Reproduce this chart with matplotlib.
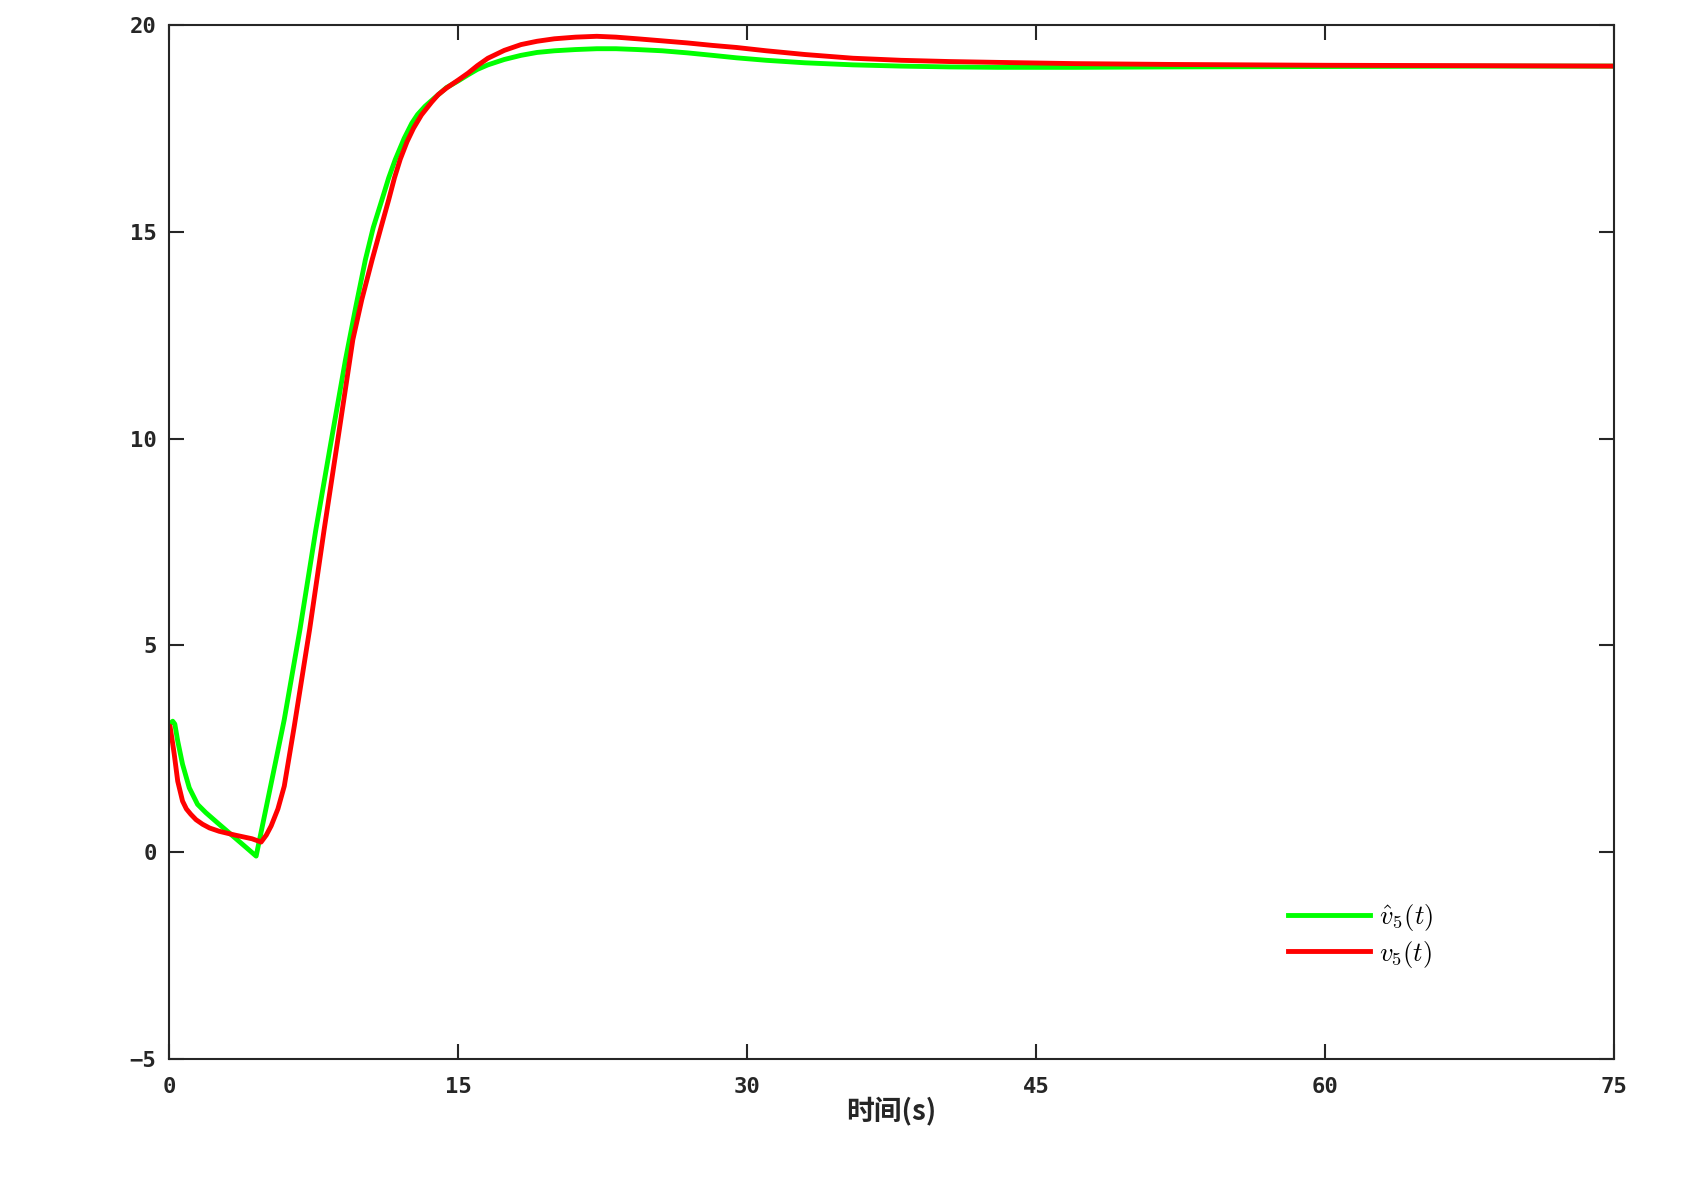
import numpy as np
import matplotlib
matplotlib.use('Agg')
import matplotlib.pyplot as plt

# estimated v5 hat (observer) curve
t_hat = [0, 0.1, 0.19, 0.3, 0.45, 0.7, 1.05, 1.48, 1.91, 2.5, 3.2, 3.9, 4.52, 5.0,
         5.5, 5.98, 6.8, 7.62, 8.4, 9.16, 9.7, 10.19, 10.6, 11.05, 11.4, 11.74,
         12.2, 12.6, 12.9, 13.29, 13.8, 14.4, 15.0, 15.52, 16.0, 16.55, 17.4, 18.27,
         19.1, 20.0, 21.1, 22.2, 23.2, 24.3, 25.6, 26.9, 28.2, 29.45, 31, 33, 35.5,
         38, 40.5, 43, 47, 52, 60, 68, 75]
v_hat = [3.08, 3.13, 3.17, 3.1, 2.69, 2.13, 1.56, 1.16, 0.96, 0.72, 0.44, 0.16, -0.09,
         0.99, 2.12, 3.21, 5.4, 7.8, 9.9, 11.91, 13.2, 14.32, 15.1, 15.77, 16.3, 16.74,
         17.25, 17.62, 17.83, 18.03, 18.24, 18.48, 18.64, 18.79, 18.92, 19.03, 19.16,
         19.26, 19.33, 19.37, 19.4, 19.42, 19.42, 19.4, 19.37, 19.32, 19.26, 19.2,
         19.14, 19.08, 19.03, 19.0, 18.98, 18.97, 18.97, 18.98, 18.99, 19.0, 19.0]

# actual v5 curve
t_act = [0, 0.05, 0.15, 0.27, 0.45, 0.7, 0.9, 1.13, 1.4, 1.74, 2.1, 2.6, 3.4, 4.3,
         4.78, 5.05, 5.3, 5.65, 5.98, 6.5, 7.3, 8.05, 8.8, 9.54, 10.0, 10.54, 11.0,
         11.4, 11.7, 12.0, 12.35, 12.69, 13.1, 13.63, 13.97, 14.4, 15.0, 15.52, 16.0,
         16.55, 17.4, 18.27, 19.1, 20.0, 21.1, 22.2, 23.2, 24.3, 25.6, 26.9, 28.2,
         29.45, 31, 33, 35.5, 38, 40.5, 43, 47, 52, 60, 68, 75]
v_act = [3.05, 3.05, 2.75, 2.37, 1.72, 1.24, 1.05, 0.92, 0.79, 0.68, 0.59, 0.51, 0.42,
         0.33, 0.25, 0.42, 0.64, 1.05, 1.6, 3.05, 5.4, 7.8, 10.1, 12.39, 13.35, 14.32,
         15.1, 15.77, 16.3, 16.75, 17.17, 17.5, 17.82, 18.13, 18.31, 18.47, 18.66,
         18.83, 19.01, 19.19, 19.38, 19.52, 19.6, 19.66, 19.7, 19.72, 19.7, 19.66,
         19.61, 19.56, 19.5, 19.45, 19.37, 19.28, 19.19, 19.14, 19.11, 19.09, 19.06,
         19.04, 19.02, 19.01, 19.0]

xticks = [0, 15, 30, 45, 60, 75]
yticks = [-5, 0, 5, 10, 15, 20]

plt.rcParams['mathtext.fontset'] = 'cm'
axcol = '#262626'

fig = plt.figure(figsize=(16.99, 11.77), dpi=100)
ax = fig.add_axes([0.0995, 0.1, 0.8505, 0.879])

ax.plot(t_hat, v_hat, color='#00ff00', lw=3.5, label=r'$\hat{v}_5(t)$',
        solid_joinstyle='round')
ax.plot(t_act, v_act, color='#ff0000', lw=3.5, label=r'$v_5(t)$',
        solid_joinstyle='round')

ax.set_xlim(0, 75)
ax.set_ylim(-5, 20)
ax.set_xticks(xticks)
ax.set_yticks(yticks)
ax.tick_params(direction='in', length=11, width=1.5, colors=axcol,
               top=True, right=True, labelsize=16)
ax.tick_params(axis='x', pad=13)
ax.tick_params(axis='y', pad=9)
for lab in ax.get_xticklabels() + ax.get_yticklabels():
    lab.set_family('DejaVu Sans Mono')
    lab.set_fontweight('bold')
for s in ax.spines.values():
    s.set_linewidth(1.5)
    s.set_color(axcol)

ax.set_xlabel('时间(s)', fontsize=20, fontweight='bold', color=axcol,
              family=['Noto Sans CJK SC', 'DejaVu Sans'])
ax.xaxis.set_label_coords(0.5, -0.036)

ax.legend(loc='upper left', bbox_to_anchor=(0.767, 0.162), frameon=False,
          fontsize=19, handlelength=3.1, handletextpad=0.35, labelspacing=0.2,
          borderaxespad=0)

fig.savefig('out.png', dpi=100)
